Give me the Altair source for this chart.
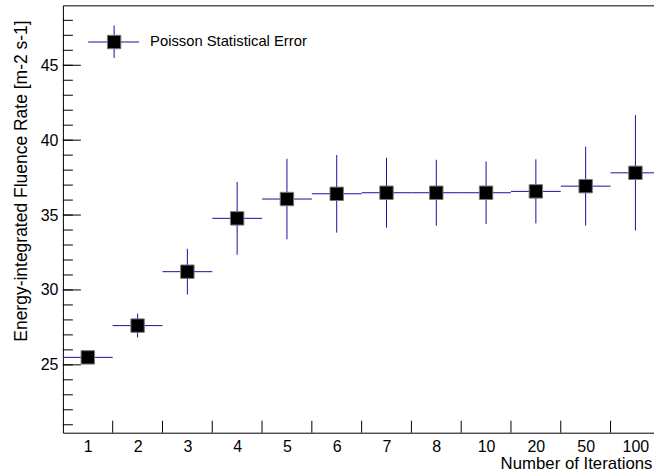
import json
import altair as alt
import pandas as pd

# ---- data ----
labels = ["1", "2", "3", "4", "5", "6", "7", "8", "10", "20", "50", "100"]
values = [25.5, 27.62, 31.22, 34.78, 36.07, 36.42, 36.49, 36.49, 36.49, 36.58, 36.93, 37.82]
errors = [0.4, 0.8, 1.53, 2.43, 2.69, 2.59, 2.33, 2.2, 2.09, 2.14, 2.64, 3.85]
legend_label = ["Poisson Statistical Error"]
y_title = ["Energy-integrated Fluence Rate [m-2 s-1]"]
x_title = "Number of Iterations"
y_major = [25, 30, 35, 40, 45]
y_minor = list(range(21, 49))

idx = list(range(1, len(labels) + 1))
df = pd.DataFrame({"idx": idx, "label": labels, "value": values, "err": errors})
df["lo"] = df["idx"] - 0.5
df["hi"] = df["idx"] + 0.5
df["ylo"] = df["value"] - df["err"]
df["yhi"] = df["value"] + df["err"]

bounds = pd.DataFrame({"b": [i + 0.5 for i in idx[:-1]]})
majors = pd.DataFrame({"t": y_major})
minors = pd.DataFrame({"t": y_minor})
leg = pd.DataFrame({"label": legend_label})
ytl = pd.DataFrame({"label": y_title})

FONT = "Liberation Sans"
BLUE = "#1414a0"
W, H = 592, 428

xs = alt.Scale(domain=[0.5, 12.373], nice=False, zero=False)
ys = alt.Scale(domain=[20.47, 49.0], nice=False, zero=False)

label_expr = json.dumps(labels) + "[datum.value - 1]"

x_axis = alt.Axis(values=idx, labelExpr=label_expr, ticks=False, domain=False, grid=False,
                  labelFont=FONT, labelFontSize=16, labelColor="black", labelPadding=6,
                  title=x_title, titleFont=FONT, titleFontSize=16.8,
                  titleFontWeight="normal", titleColor="black", titleAnchor="end",
                  titlePadding=1, titleX=590)
y_axis = alt.Axis(values=y_major, ticks=False, domain=False, grid=False,
                  labelFont=FONT, labelFontSize=16, labelColor="black", labelPadding=5,
                  title="")


def X(field):
    return alt.X(field, scale=xs, axis=x_axis)


def Y(field):
    return alt.Y(field, scale=ys, axis=y_axis)


# horizontal (bin width) bars
hbar = alt.Chart(df).mark_rule(color=BLUE, strokeWidth=1, clip=True).encode(
    x=X("lo:Q"), x2="hi:Q", y=Y("value:Q"))
# vertical error bars
vbar = alt.Chart(df).mark_rule(color=BLUE, strokeWidth=1, clip=True).encode(
    x=X("idx:Q"), y=Y("ylo:Q"), y2="yhi:Q")
pts = alt.Chart(df).mark_point(shape="square", filled=True, fill="black", stroke="#777",
                               strokeWidth=1, size=180, opacity=1).encode(
    x=X("idx:Q"), y=Y("value:Q"))

# inside ticks
xticks = alt.Chart(bounds).mark_rule(color="black", strokeWidth=1).encode(
    x=X("b:Q"), y=alt.value(H), y2=alt.value(H - 12))
ymaj = alt.Chart(majors).mark_rule(color="black", strokeWidth=1).encode(
    y=Y("t:Q"), x=alt.value(0), x2=alt.value(18))
ymin = alt.Chart(minors).mark_rule(color="black", strokeWidth=1).encode(
    y=Y("t:Q"), x=alt.value(0), x2=alt.value(10))

# y-axis title (rotated, aligned to the top end as in ROOT)
ytitle = alt.Chart(ytl).mark_text(angle=270, align="right", baseline="alphabetic",
                                  font=FONT, fontSize=17.5, color="black").encode(
    x=alt.value(-36.3), y=alt.value(15), text="label:N")

# legend
lx, ly = 51.3, 36.7
leg_h = alt.Chart(leg).mark_rule(color=BLUE, strokeWidth=1).encode(
    x=alt.value(lx - 26), x2=alt.value(lx + 25), y=alt.value(ly))
leg_v = alt.Chart(leg).mark_rule(color=BLUE, strokeWidth=1).encode(
    x=alt.value(lx), y=alt.value(ly - 16.5), y2=alt.value(ly + 16))
leg_p = alt.Chart(leg).mark_point(shape="square", filled=True, fill="black", stroke="#777",
                                  strokeWidth=1, size=180, opacity=1).encode(
    x=alt.value(lx), y=alt.value(ly))
leg_t = alt.Chart(leg).mark_text(align="left", baseline="middle", font=FONT, fontSize=14.8,
                                 color="black").encode(
    x=alt.value(lx + 36), y=alt.value(ly), text="label:N")

chart = alt.layer(hbar, vbar, pts, xticks, ymaj, ymin, ytitle,
                  leg_h, leg_v, leg_p, leg_t).properties(
    width=W, height=H,
    autosize=alt.AutoSizeParams(type="none"),
    padding={"left": 63, "top": 5, "right": 0, "bottom": 43},
    background="white",
).configure_view(stroke="black", strokeWidth=1)

chart.save("out.html", embed_options={"renderer": "svg", "actions": False})
